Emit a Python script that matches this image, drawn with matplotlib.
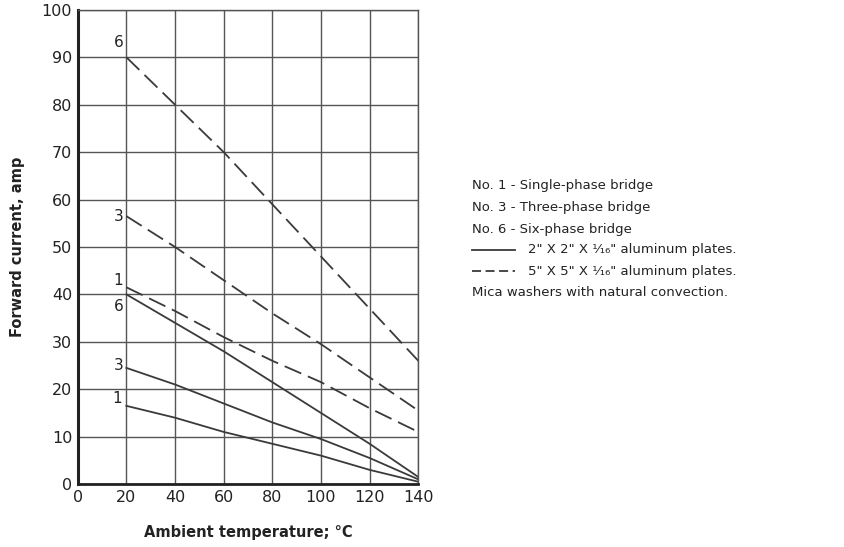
import numpy as np
import matplotlib.pyplot as plt

plt.rcParams['font.family'] = ['DejaVu Sans']

# ambient temperature, deg C
temp = [20, 40, 60, 80, 100, 120, 140]

# 2" x 2" x 1/16" plates (solid)
small_1 = [16.5, 14, 11, 8.5, 6, 3, 0.5]
small_3 = [24.5, 21, 17, 13, 9.5, 5.5, 1]
small_6 = [40, 34, 28, 21.5, 15, 8.5, 1.5]

# 5" x 5" x 1/16" plates (dashed)
big_1 = [41.5, 36.5, 31, 26, 21.5, 16, 11]
big_3 = [56.5, 50, 43, 36, 29.5, 22.5, 15.5]
big_6 = [90, 80, 70, 59, 48, 37, 26]

xticks = np.arange(0, 141, 20)
yticks = np.arange(0, 101, 10)

fig = plt.figure(figsize=(8.45, 5.47), dpi=100)
ax = fig.add_axes([0.092, 0.115, 0.403, 0.867])

col = '#3a3a3a'
dash = (0, (10, 4))
for s in [small_1, small_3, small_6]:
    ax.plot(temp, s, color=col, lw=1.3)
for s in [big_1, big_3, big_6]:
    ax.plot(temp, s, color=col, lw=1.3, linestyle=dash)

# curve numbers
tc = '#222222'
ax.text(19, 91.5, '6', ha='right', va='bottom', fontsize=11, color=tc)
ax.text(19, 56.5, '3', ha='right', va='center', fontsize=11, color=tc)
ax.text(18.5, 43, '1', ha='right', va='center', fontsize=11, color=tc)
ax.text(19, 37.5, '6', ha='right', va='center', fontsize=11, color=tc)
ax.text(19, 25, '3', ha='right', va='center', fontsize=11, color=tc)
ax.text(18, 18, '1', ha='right', va='center', fontsize=11, color=tc)

ax.set_xlim(0, 140)
ax.set_ylim(0, 100)
ax.set_xticks(xticks)
ax.set_yticks(yticks)
ax.tick_params(length=0, labelsize=11.5, colors=tc, pad=4)
ax.grid(True, color='#555555', lw=1.0)
for side in ['top', 'right']:
    ax.spines[side].set_linewidth(1.0)
    ax.spines[side].set_color('#555555')
ax.spines['left'].set_linewidth(2.2)
ax.spines['bottom'].set_linewidth(2.0)
ax.spines['left'].set_color(tc)
ax.spines['bottom'].set_color(tc)

ax.set_ylabel('Forward current, amp', fontsize=10.5, fontweight='bold', labelpad=12, color=tc)
ax.set_xlabel('Ambient temperature; \u00b0C', fontsize=10.5, fontweight='bold', labelpad=15, color=tc)

# key text to the right
kx = 0.559
fs = 9.5
fig.text(kx, 1 - 186/547, 'No. 1 - Single-phase bridge', fontsize=fs, va='center', color=tc)
fig.text(kx, 1 - 208/547, 'No. 3 - Three-phase bridge', fontsize=fs, va='center', color=tc)
fig.text(kx, 1 - 229/547, 'No. 6 - Six-phase bridge', fontsize=fs, va='center', color=tc)
fig.add_artist(plt.Line2D([kx, 0.610], [1 - 250/547] * 2, color=col, lw=1.3))
fig.text(0.625, 1 - 250/547, '2" X 2" X \u00b9\u2044\u2081\u2086" aluminum plates.', fontsize=fs, va='center', color=tc)
fig.add_artist(plt.Line2D([kx, 0.610], [1 - 271/547] * 2, color=col, lw=1.3, linestyle=(0, (5, 2.5))))
fig.text(0.625, 1 - 271/547, '5" X 5" X \u00b9\u2044\u2081\u2086" aluminum plates.', fontsize=fs, va='center', color=tc)
fig.text(kx, 1 - 292/547, 'Mica washers with natural convection.', fontsize=fs, va='center', color=tc)

fig.savefig('out.png', dpi=100, facecolor='white')
